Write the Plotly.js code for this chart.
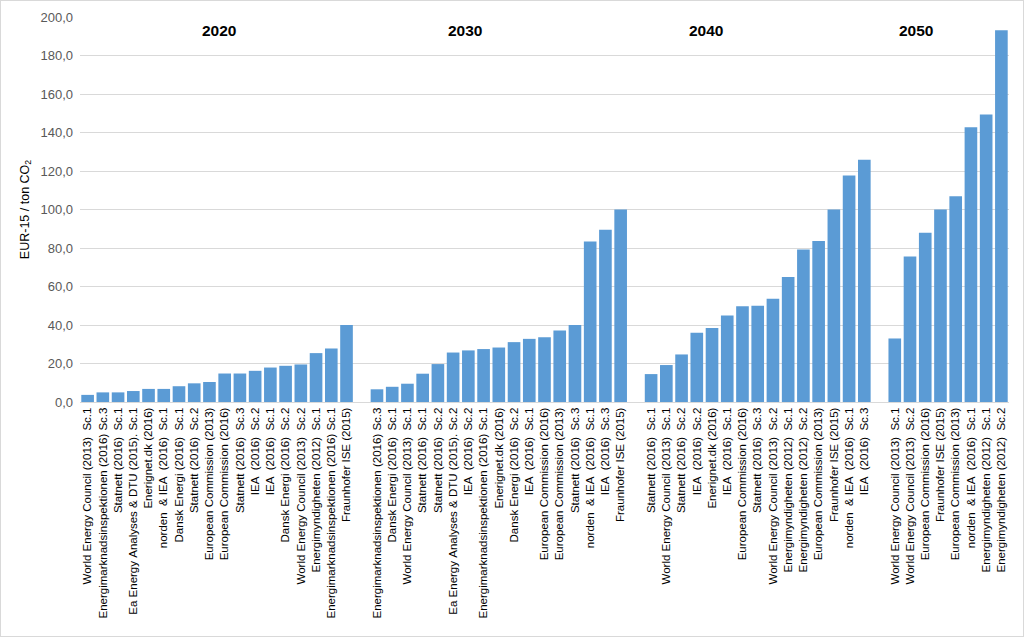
<!DOCTYPE html>
<html>
<head>
<meta charset="utf-8">
<script src="https://cdn.plot.ly/plotly-3.0.1.min.js"></script>
<style>
  body { margin: 0; background: #fff; }
  #plot { width: 1024px; height: 637px; box-sizing: border-box; border: 1px solid #d9d9d9; }
</style>
</head>
<body>
<div id="plot"></div>
<script>
  // --- data: CO2 price estimates, EUR-15 / ton CO2, sorted within each year ---
  const labels2020 = [
    'World Energy Council (2013)  Sc.1', 'Energimarknadsinspektionen (2016) Sc.3', 'Statnett (2016)  Sc.1',
    'Ea Energy Analyses & DTU (2015). Sc.1', 'Enerignet.dk (2016)', 'norden  & IEA  (2016)  Sc.1',
    'Dansk Energi (2016)  Sc.1', 'Statnett (2016)  Sc.2', 'European Commission (2013)',
    'European Commission (2016)', 'Statnett (2016)  Sc.3', 'IEA  (2016)  Sc.2',
    'IEA  (2016)  Sc.1', 'Dansk Energi (2016)  Sc.2', 'World Energy Council (2013)  Sc.2',
    'Energimyndigheten (2012)  Sc.1', 'Energimarknadsinspektionen (2016) Sc.1', 'Fraunhofer ISE (2015)'
  ];
  const values2020 = [3.7, 5.0, 5.0, 5.7, 6.8, 6.8, 8.2, 9.7, 10.4, 14.8, 14.8, 16.2, 17.9, 18.8, 19.5, 25.4, 27.8, 40.0];

  const labels2030 = [
    'Energimarknadsinspektionen (2016) Sc.3', 'Dansk Energi (2016)  Sc.1', 'World Energy Council (2013)  Sc.1',
    'Statnett (2016)  Sc.1', 'Statnett (2016)  Sc.2', 'Ea Energy Analyses & DTU (2015). Sc.2',
    'IEA  (2016)  Sc.2', 'Energimarknadsinspektionen (2016) Sc.1', 'Enerignet.dk (2016)',
    'Dansk Energi (2016)  Sc.2', 'IEA  (2016)  Sc.1', 'European Commission (2016)',
    'European Commission (2013)', 'Statnett (2016)  Sc.3', 'norden  & IEA  (2016)  Sc.1',
    'IEA  (2016)  Sc.3', 'Fraunhofer ISE (2015)'
  ];
  const values2030 = [6.6, 7.9, 9.5, 14.7, 19.7, 25.7, 26.8, 27.5, 28.3, 31.1, 32.8, 33.7, 37.1, 40.0, 83.4, 89.5, 100.0];

  const labels2040 = [
    'Statnett (2016)  Sc.1', 'World Energy Council (2013)  Sc.1', 'Statnett (2016)  Sc.2',
    'IEA  (2016)  Sc.2', 'Enerignet.dk (2016)', 'IEA  (2016)  Sc.1',
    'European Commission (2016)', 'Statnett (2016)  Sc.3', 'World Energy Council (2013)  Sc.2',
    'Energimyndigheten (2012)  Sc.1', 'Energimyndigheten (2012)  Sc.2', 'European Commission (2013)',
    'Fraunhofer ISE (2015)', 'norden  & IEA  (2016)  Sc.1', 'IEA  (2016)  Sc.3'
  ];
  const values2040 = [14.5, 19.2, 24.7, 36.0, 38.4, 45.0, 49.7, 50.0, 53.6, 64.9, 79.2, 83.6, 100.0, 117.6, 125.8];

  const labels2050 = [
    'World Energy Council (2013)  Sc.1', 'World Energy Council (2013)  Sc.2', 'European Commission (2016)',
    'Fraunhofer ISE (2015)', 'European Commission (2013)', 'norden  & IEA  (2016)  Sc.1',
    'Energimyndigheten (2012)  Sc.1', 'Energimyndigheten (2012)  Sc.2'
  ];
  const values2050 = [33.0, 75.6, 87.9, 100.0, 106.9, 142.7, 149.4, 193.1];

  const years = ['2020', '2030', '2040', '2050'];
  const groups = [
    [labels2020, values2020],
    [labels2030, values2030],
    [labels2040, values2040],
    [labels2050, values2050]
  ];

  // lay groups out on one category axis, with one empty slot between years
  const xs = [], ys = [], ticktext = [];
  let pos = 0;
  groups.forEach(([labs, vals]) => {
    labs.forEach((lab, i) => {
      xs.push(pos);
      ys.push(vals[i]);
      ticktext.push(lab.replace(/ /g, '\u00a0'));
      pos++;
    });
    pos++; // gap
  });
  const nSlots = pos - 1;

  // year headings, placed roughly as in the source chart
  const yearX = [8.6, 24.8, 40.6, 54.4];
  const annotations = years.map((yr, i) => ({
    x: yearX[i], y: 193, xref: 'x', yref: 'y', text: '<b>' + yr + '</b>',
    showarrow: false, font: { size: 15.5, color: '#000', family: 'Liberation Sans, Arial, sans-serif' }
  }));

  Plotly.newPlot('plot', [{
    type: 'bar', x: xs, y: ys,
    marker: { color: '#5b9bd5' },
    hoverinfo: 'x+y'
  }], {
    width: 1022, height: 635,
    margin: { l: 79, r: 14, t: 16, b: 234 },
    separators: ', ',
    bargap: 0.17,
    showlegend: false,
    plot_bgcolor: '#fff', paper_bgcolor: '#fff',
    font: { family: 'Liberation Sans, Arial, sans-serif', color: '#404040' },
    xaxis: {
      range: [-0.5, nSlots - 0.5],
      tickvals: xs, ticktext: ticktext,
      tickangle: -90,
      tickfont: { size: 11.5, color: '#000' },
      showgrid: false, zeroline: false,
      showline: true, linecolor: '#d9d9d9', linewidth: 1,
      ticks: '', ticklen: 0
    },
    yaxis: {
      range: [0, 200], dtick: 20, tickformat: '.1f',
      tickfont: { size: 13, color: '#595959' },
      gridcolor: '#d9d9d9', gridwidth: 1,
      zeroline: false, showline: false,
      ticks: '', ticklabelstandoff: 6,
      title: { text: 'EUR-15 / ton CO<sub>2</sub>', font: { size: 12.5, color: '#000' }, standoff: 8 }
    },
    annotations: annotations
  }, { displayModeBar: false, staticPlot: true });
</script>
</body>
</html>
